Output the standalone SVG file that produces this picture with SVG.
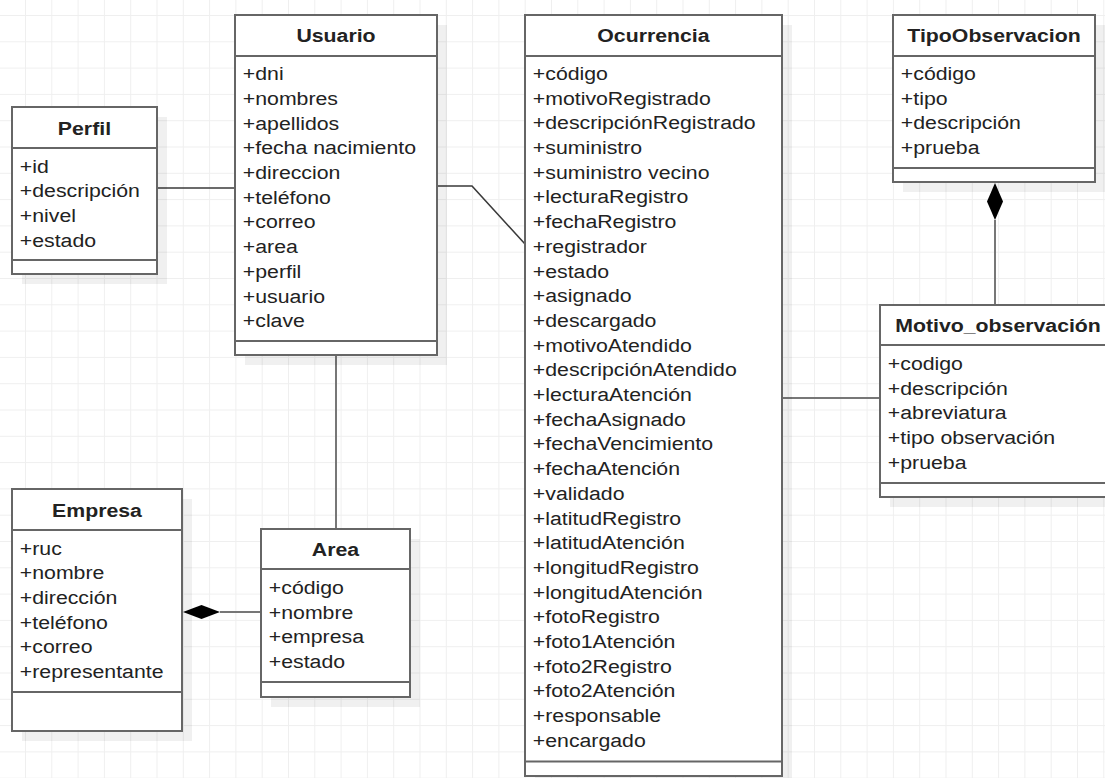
<svg xmlns="http://www.w3.org/2000/svg" width="1105" height="778" viewBox="0 0 1105 778">
  <defs>
    <pattern id="grid" width="26.3" height="26.3" patternUnits="userSpaceOnUse" x="25" y="15">
      <path d="M0.5 0 V26.3 M0 0.5 H26.3" stroke="#efefef" stroke-width="1" fill="none"/>
    </pattern>
  </defs>
  <style>
    .shadow{fill:#000;opacity:.06}
    .box{fill:#fff;stroke:#666;stroke-width:2}
    .sep{stroke:#666;stroke-width:2}
    .t{font-family:"Liberation Sans",Arial,sans-serif;font-size:19px;fill:#222}
    .title{font-weight:bold;text-anchor:middle}
    .edge{fill:none;stroke:#777;stroke-width:2}
    .thin{stroke:#3a3a3a;stroke-width:1.6}
    .diamond{fill:#000;stroke:none}
  </style>

  <rect width="1105" height="778" fill="#fff"/>
  <rect width="1105" height="778" fill="url(#grid)"/>

  <!-- associations -->
  <g id="connectors">
    <path class="edge thin" d="M157 188 H235"/>
    <path class="edge thin" d="M437 186 H472 L525 244"/>
    <path class="edge" d="M336 355 V529"/>
    <path class="edge" d="M782 398 H880"/>
    <path class="edge" d="M261 612 H220"/>
    <polygon class="diamond" points="183,612 201.5,605 220,612 201.5,619"/>
    <path class="edge" d="M995 305 V220"/>
    <polygon class="diamond" points="995,183 1003,201.5 995,220 987,201.5"/>
  </g>

  <g id="perfil" transform="translate(12,107)">
    <rect class="shadow" x="10" y="10" width="145" height="167"/>
    <rect class="box" width="145" height="167"/>
    <line class="sep" x1="0" y1="41" x2="145" y2="41"/>
    <line class="sep" x1="0" y1="153" x2="145" y2="153"/>
    <g class="t" transform="scale(1.12,1)">
      <text class="title" x="64.7" y="28">Perfil</text>
      <text x="7" y="65.7">+id</text>
      <text x="7" y="90.4">+descripción</text>
      <text x="7" y="115.1">+nivel</text>
      <text x="7" y="139.8">+estado</text>
    </g>
  </g>

  <g id="usuario" transform="translate(235,15)">
    <rect class="shadow" x="10" y="10" width="202" height="340"/>
    <rect class="box" width="202" height="340"/>
    <line class="sep" x1="0" y1="41" x2="202" y2="41"/>
    <line class="sep" x1="0" y1="326" x2="202" y2="326"/>
    <g class="t" transform="scale(1.12,1)">
      <text class="title" x="90.2" y="27.5">Usuario</text>
      <text x="7" y="65.3">+dni</text>
      <text x="7" y="90">+nombres</text>
      <text x="7" y="114.7">+apellidos</text>
      <text x="7" y="139.4">+fecha nacimiento</text>
      <text x="7" y="164.1">+direccion</text>
      <text x="7" y="188.8">+teléfono</text>
      <text x="7" y="213.5">+correo</text>
      <text x="7" y="238.2">+area</text>
      <text x="7" y="262.9">+perfil</text>
      <text x="7" y="287.6">+usuario</text>
      <text x="7" y="312.3">+clave</text>
    </g>
  </g>

  <g id="ocurrencia" transform="translate(525,15)">
    <rect class="shadow" x="10" y="10" width="257" height="761"/>
    <rect class="box" width="257" height="761"/>
    <line class="sep" x1="0" y1="41" x2="257" y2="41"/>
    <line class="sep" x1="0" y1="746.5" x2="257" y2="746.5"/>
    <g class="t" transform="scale(1.12,1)">
      <text class="title" x="114.7" y="27.5">Ocurrencia</text>
      <text x="7" y="65">+código</text>
      <text x="7" y="89.7">+motivoRegistrado</text>
      <text x="7" y="114.4">+descripciónRegistrado</text>
      <text x="7" y="139.1">+suministro</text>
      <text x="7" y="163.8">+suministro vecino</text>
      <text x="7" y="188.5">+lecturaRegistro</text>
      <text x="7" y="213.2">+fechaRegistro</text>
      <text x="7" y="237.9">+registrador</text>
      <text x="7" y="262.6">+estado</text>
      <text x="7" y="287.3">+asignado</text>
      <text x="7" y="312">+descargado</text>
      <text x="7" y="336.7">+motivoAtendido</text>
      <text x="7" y="361.4">+descripciónAtendido</text>
      <text x="7" y="386.1">+lecturaAtención</text>
      <text x="7" y="410.8">+fechaAsignado</text>
      <text x="7" y="435.5">+fechaVencimiento</text>
      <text x="7" y="460.2">+fechaAtención</text>
      <text x="7" y="484.9">+validado</text>
      <text x="7" y="509.6">+latitudRegistro</text>
      <text x="7" y="534.3">+latitudAtención</text>
      <text x="7" y="559">+longitudRegistro</text>
      <text x="7" y="583.7">+longitudAtención</text>
      <text x="7" y="608.4">+fotoRegistro</text>
      <text x="7" y="633.1">+foto1Atención</text>
      <text x="7" y="657.8">+foto2Registro</text>
      <text x="7" y="682.5">+foto2Atención</text>
      <text x="7" y="707.2">+responsable</text>
      <text x="7" y="731.9">+encargado</text>
    </g>
  </g>

  <g id="tipo-observacion" transform="translate(893,15)">
    <rect class="shadow" x="10" y="10" width="202" height="167"/>
    <rect class="box" width="202" height="167"/>
    <line class="sep" x1="0" y1="41" x2="202" y2="41"/>
    <line class="sep" x1="0" y1="153" x2="202" y2="153"/>
    <g class="t" transform="scale(1.12,1)">
      <text class="title" x="90.2" y="27.5">TipoObservacion</text>
      <text x="7" y="65">+código</text>
      <text x="7" y="89.7">+tipo</text>
      <text x="7" y="114.4">+descripción</text>
      <text x="7" y="139.1">+prueba</text>
    </g>
  </g>

  <g id="motivo-observacion" transform="translate(880,305)">
    <rect class="shadow" x="10" y="10" width="236" height="192"/>
    <rect class="box" width="236" height="192"/>
    <line class="sep" x1="0" y1="40" x2="236" y2="40"/>
    <line class="sep" x1="0" y1="178" x2="236" y2="178"/>
    <g class="t" transform="scale(1.12,1)">
      <text class="title" x="105.4" y="27.5">Motivo_observación</text>
      <text x="7" y="65">+codigo</text>
      <text x="7" y="89.7">+descripción</text>
      <text x="7" y="114.4">+abreviatura</text>
      <text x="7" y="139.1">+tipo observación</text>
      <text x="7" y="163.8">+prueba</text>
    </g>
  </g>

  <g id="area" transform="translate(261,529)">
    <rect class="shadow" x="10" y="10" width="149" height="168"/>
    <rect class="box" width="149" height="168"/>
    <line class="sep" x1="0" y1="40" x2="149" y2="40"/>
    <line class="sep" x1="0" y1="153" x2="149" y2="153"/>
    <g class="t" transform="scale(1.12,1)">
      <text class="title" x="66.5" y="27.5">Area</text>
      <text x="7" y="65">+código</text>
      <text x="7" y="89.7">+nombre</text>
      <text x="7" y="114.4">+empresa</text>
      <text x="7" y="139.1">+estado</text>
    </g>
  </g>

  <g id="empresa" transform="translate(12,489)">
    <rect class="shadow" x="10" y="10" width="170" height="242"/>
    <rect class="box" width="170" height="242"/>
    <line class="sep" x1="0" y1="41" x2="170" y2="41"/>
    <line class="sep" x1="0" y1="203" x2="170" y2="203"/>
    <g class="t" transform="scale(1.12,1)">
      <text class="title" x="75.9" y="28">Empresa</text>
      <text x="7" y="65.7">+ruc</text>
      <text x="7" y="90.4">+nombre</text>
      <text x="7" y="115.1">+dirección</text>
      <text x="7" y="139.8">+teléfono</text>
      <text x="7" y="164.5">+correo</text>
      <text x="7" y="189.2">+representante</text>
    </g>
  </g>
</svg>
